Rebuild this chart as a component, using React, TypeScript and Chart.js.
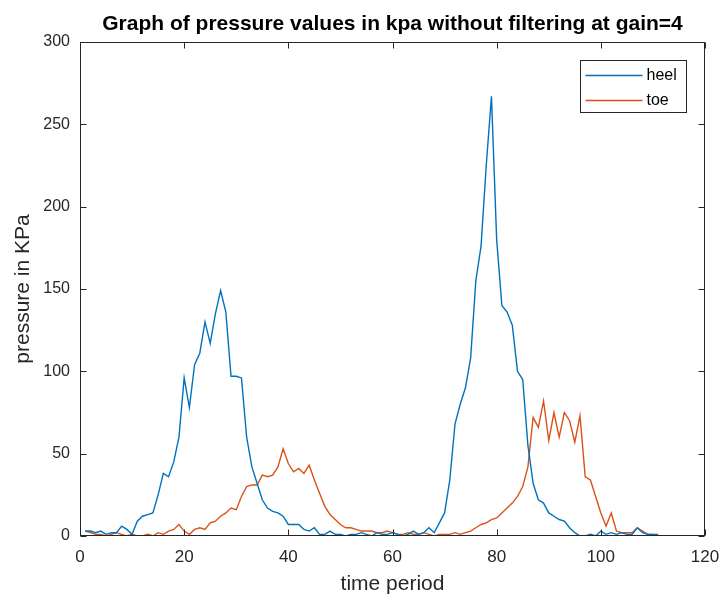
import React, { useEffect, useRef } from "react";
import { Chart, registerables } from "chart.js";

Chart.register(...registerables);

const chartTitle = "Graph of pressure values in kpa without filtering at gain=4";
const xAxisTitle = "time period";
const yAxisTitle = "pressure in KPa";
const seriesLabels = ["heel", "toe"];
const seriesColors = ["#0072BD", "#D95319"];

// samples 1..111
const heel = [
  3, 3, 2, 3, 1, 2, 2, 6, 4, 1,
  9, 12, 13, 14, 25, 38, 36, 45, 60, 96,
  78, 104, 111, 130, 117, 135, 149, 136, 97, 97,
  96, 60, 42, 32, 22, 17, 15, 14, 12, 7,
  7, 7, 4, 3, 5, 1, 1, 3, 1, 1,
  0, 1, 1, 2, 1, 0, 2, 1, 1, 2,
  1, 0, 1, 3, 1, 2, 5, 2, 8, 14,
  34, 68, 80, 90, 108, 155, 176, 225, 267, 180,
  140, 136, 128, 100, 95, 55, 32, 22, 20, 14,
  12, 10, 9, 5, 2, 0, 0, 1, 0, 3,
  1, 2, 1, 2, 1, 1, 5, 2, 1, 1,
  1,
];

const toe = [
  3, 2, 1, 1, 0, 1, 2, 1, 0, 1,
  0, 0, 1, 0, 2, 1, 3, 4, 7, 3,
  1, 4, 5, 4, 8, 9, 12, 14, 17, 16,
  24, 30, 31, 31, 37, 36, 37, 42, 53, 44,
  39, 41, 38, 43, 34, 26, 18, 13, 10, 7,
  5, 5, 4, 3, 3, 3, 2, 2, 3, 2,
  1, 1, 2, 1, 1, 2, 1, 0, 1, 1,
  1, 2, 1, 2, 3, 5, 7, 8, 10, 11,
  14, 17, 20, 24, 30, 42, 72, 66, 82, 58,
  75, 60, 75, 70, 57, 73, 36, 34, 24, 14,
  6, 14, 3, 2, 2, 2, 5, 3, 1, 1,
  0,
];

const xTickStep = 20;
const xMin = 0;
const xMax = 120;
const yTickStep = 50;
const yMin = 0;
const yMax = 300;

const FONT = "'Liberation Sans', Arial, Helvetica, sans-serif";
const AXIS_COLOR = "#262626";

const decorPlugin = {
  id: "matlabDecor",
  afterDraw(chart: any) {
    const ctx = chart.ctx as CanvasRenderingContext2D;
    const { left, right, top, bottom } = chart.chartArea;
    const xs = chart.scales.x;
    const ys = chart.scales.y;
    ctx.save();
    ctx.strokeStyle = AXIS_COLOR;
    ctx.lineWidth = 1;
    const L = Math.round(left) + 0.5;
    const R = Math.round(right) - 0.5;
    const T = Math.round(top) + 0.5;
    const B = Math.round(bottom) - 0.5;
    ctx.strokeRect(L, T, R - L, B - T);
    const tl = 6;
    ctx.beginPath();
    xs.ticks.forEach((t: any) => {
      const px = Math.round(xs.getPixelForValue(t.value)) + 0.5;
      ctx.moveTo(px, B);
      ctx.lineTo(px, B - tl);
      ctx.moveTo(px, T);
      ctx.lineTo(px, T + tl);
    });
    ys.ticks.forEach((t: any) => {
      const py = Math.round(ys.getPixelForValue(t.value)) + 0.5;
      ctx.moveTo(L, py);
      ctx.lineTo(L + tl, py);
      ctx.moveTo(R, py);
      ctx.lineTo(R - tl, py);
    });
    ctx.stroke();

    // title
    ctx.fillStyle = "#000";
    ctx.font = `bold 21px ${FONT}`;
    ctx.textAlign = "center";
    ctx.textBaseline = "alphabetic";
    ctx.fillText(chartTitle, (left + right) / 2, 30);

    // axis titles
    ctx.fillStyle = AXIS_COLOR;
    ctx.font = `21px ${FONT}`;
    ctx.fillText(xAxisTitle, (left + right) / 2, 590);
    ctx.save();
    ctx.translate(29, (top + bottom) / 2);
    ctx.rotate(-Math.PI / 2);
    ctx.fillText(yAxisTitle, 0, 0);
    ctx.restore();

    // legend
    const bw = 106;
    const bh = 52;
    const bx = Math.round(right - 19 - bw) + 0.5;
    const by = Math.round(top + 18) + 0.5;
    ctx.fillStyle = "#fff";
    ctx.fillRect(bx, by, bw, bh);
    ctx.strokeStyle = AXIS_COLOR;
    ctx.lineWidth = 1;
    ctx.strokeRect(bx, by, bw, bh);
    ctx.font = `16px ${FONT}`;
    ctx.textAlign = "left";
    ctx.textBaseline = "middle";
    chart.data.datasets.forEach((ds: any, i: number) => {
      const ly = by + 15 + i * 25;
      ctx.strokeStyle = ds.borderColor;
      ctx.lineWidth = 1.4;
      ctx.beginPath();
      ctx.moveTo(bx + 5, ly);
      ctx.lineTo(bx + 62, ly);
      ctx.stroke();
      ctx.fillStyle = "#000";
      ctx.fillText(ds.label, bx + 66, ly);
    });
    ctx.restore();
  },
};

export default function App() {
  const canvasRef = useRef<HTMLCanvasElement | null>(null);

  useEffect(() => {
    document.body.style.margin = "0";
    const canvas = canvasRef.current;
    if (!canvas) return;
    const series = [heel, toe];
    const chart = new Chart(canvas, {
      type: "line",
      data: {
        datasets: series.map((vals, si) => ({
          label: seriesLabels[si],
          data: vals.map((v, i) => ({ x: i + 1, y: v })),
          borderColor: seriesColors[si],
          backgroundColor: seriesColors[si],
          borderWidth: 1.4,
          pointRadius: 0,
          tension: 0,
          fill: false,
        })),
      },
      options: {
        animation: false,
        responsive: false,
        maintainAspectRatio: false,
        layout: { padding: { top: 42, right: 17, left: 0, bottom: 0 } },
        plugins: {
          legend: { display: false },
          title: { display: false },
          tooltip: { enabled: false },
        },
        scales: {
          x: {
            type: "linear",
            min: xMin,
            max: xMax,
            afterFit: (s: any) => {
              s.height = 61;
              s.paddingLeft = 0;
              s.paddingRight = 0;
            },
            ticks: {
              stepSize: xTickStep,
              color: AXIS_COLOR,
              font: { family: FONT, size: 17 },
              padding: 11,
              maxRotation: 0,
            },
            grid: { display: false, drawTicks: false },
            border: { display: false },
          },
          y: {
            type: "linear",
            min: yMin,
            max: yMax,
            afterFit: (s: any) => {
              s.width = 80;
              s.paddingTop = 0;
              s.paddingBottom = 0;
            },
            ticks: {
              stepSize: yTickStep,
              color: AXIS_COLOR,
              font: { family: FONT, size: 16 },
              padding: 10,
            },
            grid: { display: false, drawTicks: false },
            border: { display: false },
          },
        },
      },
      plugins: [decorPlugin],
    });
    return () => chart.destroy();
  }, []);

  return (
    <div style={{ width: 722, height: 597, background: "#fff" }}>
      <canvas ref={canvasRef} width={722} height={597} />
    </div>
  );
}
